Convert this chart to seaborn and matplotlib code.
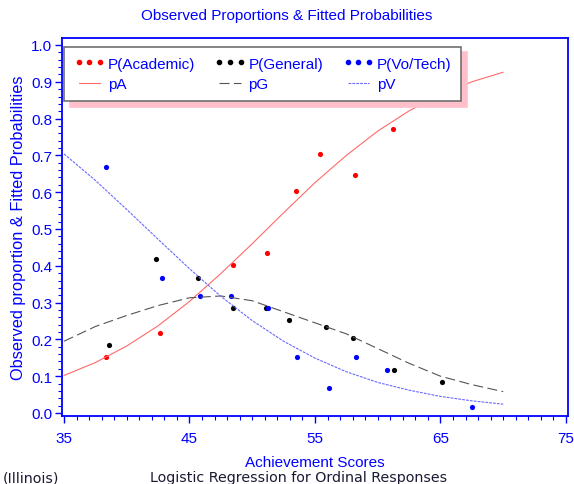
import matplotlib
matplotlib.use('Agg')
import matplotlib.pyplot as plt
import seaborn as sns
from matplotlib.lines import Line2D

# observed proportions
acad_x = [38.35, 42.65, 48.47, 51.2, 53.5, 55.42, 58.16, 61.19]
acad_y = [0.152, 0.217, 0.402, 0.435, 0.603, 0.703, 0.647, 0.773]

gen_x = [38.59, 42.36, 45.7, 48.49, 51.1, 52.9, 55.85, 58.0, 61.32, 65.14]
gen_y = [0.185, 0.418, 0.367, 0.285, 0.285, 0.252, 0.235, 0.205, 0.116, 0.084]

voc_x = [38.32, 42.78, 45.81, 48.28, 51.25, 53.54, 56.1, 58.24, 60.76, 67.5]
voc_y = [0.668, 0.368, 0.317, 0.318, 0.285, 0.151, 0.068, 0.153, 0.116, 0.017]

# fitted probability curves
fit_x = [35, 37.5, 40, 42.5, 45, 47.5, 50, 52.5, 55, 57.5, 60, 62.5, 65, 67.5, 70]
pA = [0.102, 0.137, 0.182, 0.237, 0.303, 0.379, 0.460, 0.544, 0.626, 0.700,
      0.766, 0.821, 0.865, 0.900, 0.926]
pG = [0.195, 0.235, 0.265, 0.292, 0.313, 0.318, 0.305, 0.275, 0.245, 0.215,
      0.175, 0.135, 0.100, 0.077, 0.058]
pV = [0.704, 0.632, 0.553, 0.472, 0.392, 0.317, 0.251, 0.195, 0.149, 0.112,
      0.083, 0.062, 0.045, 0.033, 0.024]

x_ticks = [35, 45, 55, 65, 75]
y_ticks = [0.0, 0.1, 0.2, 0.3, 0.4, 0.5, 0.6, 0.7, 0.8, 0.9, 1.0]

BLUE = '#0000ff'

sns.set_style('white')
plt.rcParams['font.family'] = ['Liberation Sans', 'DejaVu Sans']

fig = plt.figure(figsize=(5.74, 4.85), dpi=100)
ax = fig.add_axes([0.108, 0.1402, 0.8815, 0.7794])

# fitted lines
sns.lineplot(x=fit_x, y=pA, ax=ax, color='#ff6a6a', linewidth=0.8, linestyle='-')
sns.lineplot(x=fit_x, y=pG, ax=ax, color='#555555', linewidth=0.8,
             linestyle=(0, (9, 4)))
sns.lineplot(x=fit_x, y=pV, ax=ax, color='#6a6aff', linewidth=0.8,
             linestyle=(0, (2.5, 1)))

# observed points
sns.scatterplot(x=acad_x, y=acad_y, ax=ax, color='#ff0000', s=14, linewidth=0)
sns.scatterplot(x=gen_x, y=gen_y, ax=ax, color='#000000', s=14, linewidth=0)
sns.scatterplot(x=voc_x, y=voc_y, ax=ax, color=BLUE, s=14, linewidth=0)

ax.set_xlim(34.84, 75.16)
ax.set_ylim(-0.0082, 1.019)
ax.set_xticks(x_ticks)
ax.set_xticks(range(35, 76), minor=True)
ax.set_yticks(y_ticks)
ax.set_yticks([i / 50 for i in range(51)], minor=True)
ax.set_yticklabels([f'{v:.1f}' for v in y_ticks])

for sp in ax.spines.values():
    sp.set_color(BLUE)
    sp.set_linewidth(1.3)
ax.tick_params(axis='both', which='major', colors=BLUE, labelsize=11,
               length=5, width=1, direction='out')
ax.tick_params(axis='both', which='minor', colors=BLUE, length=3, width=0.8,
               direction='out')
ax.tick_params(axis='x', which='major', pad=6)
ax.tick_params(axis='y', which='major', pad=2)
ax.tick_params(left=True, bottom=True, which='both')

ax.set_xlabel('Achievement Scores', color=BLUE, fontsize=11, labelpad=7)
ax.set_ylabel('Observed proportion & Fitted Probabilities', color=BLUE,
              fontsize=11.8, labelpad=4)
fig.text(0.5, 0.966, 'Observed Proportions & Fitted Probabilities', color=BLUE,
         fontsize=11, ha='center', va='center')

# legend
handles = [
    Line2D([], [], linestyle='none', marker='o', markersize=3, color='#ff0000'),
    Line2D([], [], color='#ff6a6a', linewidth=0.8),
    Line2D([], [], linestyle='none', marker='o', markersize=3, color='#000000'),
    Line2D([], [], color='#555555', linewidth=0.8, linestyle=(0, (9, 4))),
    Line2D([], [], linestyle='none', marker='o', markersize=3, color=BLUE),
    Line2D([], [], color='#6a6aff', linewidth=0.8, linestyle=(0, (2.5, 1))),
]
labels = ['P(Academic)', 'pA', 'P(General)', 'pG', 'P(Vo/Tech)', 'pV']
leg = ax.legend(handles, labels, ncol=3, numpoints=3, loc='upper left',
                bbox_to_anchor=(0.004, 0.84, 0.785, 0.137), mode='expand',
                borderaxespad=0, fontsize=11, labelcolor=BLUE, fancybox=False,
                frameon=True, framealpha=1, handlelength=2.0,
                handletextpad=0.2, labelspacing=0.45, borderpad=0.65,
                columnspacing=1.0,
                shadow={'ox': 4, 'oy': -4, 'color': '#ffc0cb', 'alpha': 1})
leg.get_frame().set_edgecolor('#707070')
leg.get_frame().set_linewidth(1.2)

fig.text(0.004, 0.0144, '(Illinois)', color='#1a1a33', fontsize=10.3,
         family='DejaVu Sans', ha='left', va='center')
fig.text(0.521, 0.0144, 'Logistic Regression for Ordinal Responses',
         color='#1a1a33', fontsize=10.3, family='DejaVu Sans', ha='center',
         va='center')

fig.savefig('out.png', dpi=100)
